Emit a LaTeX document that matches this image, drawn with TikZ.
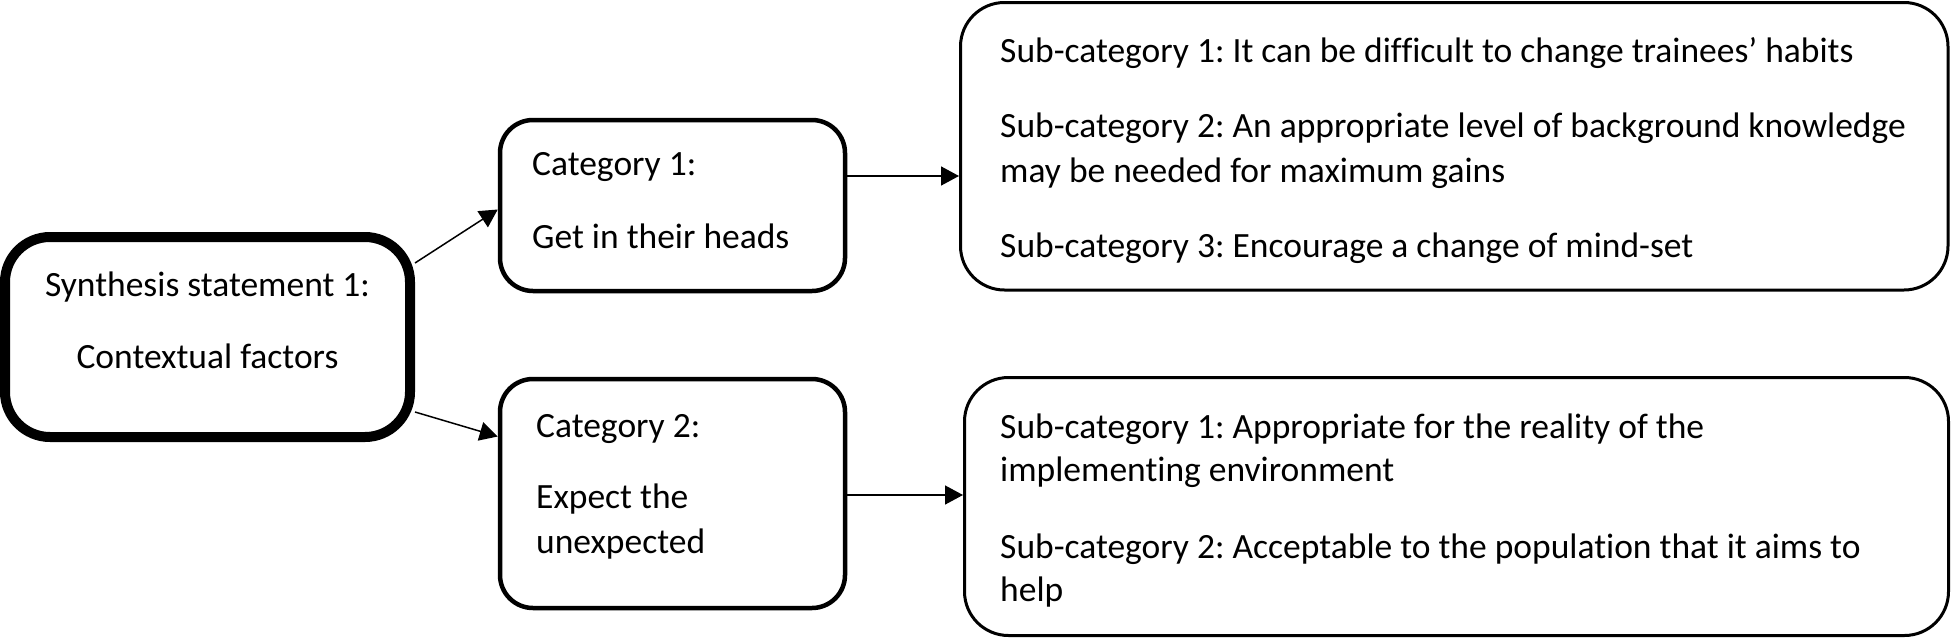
\documentclass[tikz,border=0pt]{standalone}
\usepackage{fontspec}
\setmainfont{Carlito}[Ligatures=CommonOff]
\usetikzlibrary{arrows.meta,calc}
\begin{document}
\frenchspacing
\begin{tikzpicture}[x=1pt,y=-1pt,
  box/.style={draw=black, rounded corners=#1, inner sep=0pt},
  txt/.style={inner sep=0pt, anchor=base west, align=left, font=\fontsize{35.5}{45}\selectfont\frenchspacing},
  conn/.style={line width=1.5pt, -{Triangle[length=18pt,width=19pt]}}]
\useasboundingbox (0,0) rectangle (1952,640);

% boxes
\node[box=45pt, line width=10pt, minimum width=405pt, minimum height=200pt] (syn) at (207.5,337) {};
\node[box=33pt, line width=4.5pt, minimum width=345pt, minimum height=171pt] (cat1) at (672.5,205.5) {};
\node[box=33pt, line width=4.5pt, minimum width=345pt, minimum height=229pt] (cat2) at (672.5,493.5) {};
\node[box=44pt, line width=3pt, minimum width=987.5pt, minimum height=287.5pt] (sub1) at (1454.25,146.25) {};
\node[box=44pt, line width=3pt, minimum width=984pt, minimum height=258pt] (sub2) at (1456.5,506.5) {};

% texts (anchor = baseline of the last line)
\node[txt, anchor=base, align=center] (syntxt) at (207.5,368) {Synthesis statement 1:\\[27pt]Contextual factors};
\node[txt] (cat1txt) at (532,248) {Category 1:\\[28pt]Get in their heads};
\node[txt] (cat2txt) at (536,553) {Category 2:\\[26pt]Expect the\\unexpected};
\node[txt] (sub1txt) at (1000,257) {Sub-category 1: It can be difficult to change trainees’ habits\\[30pt]
Sub-category 2: An appropriate level of background knowledge\\may be needed for maximum gains\\[30pt]
Sub-category 3: Encourage a change of mind-set};
\node[txt, font=\fontsize{35.5}{43}\selectfont\frenchspacing] (sub2txt) at (1000,601) {Sub-category 1: Appropriate for the reality of the\\implementing environment\\[34pt]
Sub-category 2: Acceptable to the population that it aims to\\help};

% connectors
\draw[conn] ($(syn.east)+(0,-74)$) -- ($(cat1.west)+(0,4)$);
\draw[conn] ($(syn.east)+(0,75)$) -- ($(cat2.west)+(0,-57)$);
\coordinate (a1) at ($(cat1.east)+(0,-29.5)$);
\coordinate (a2) at ($(cat2.east)+(0,1.5)$);
\draw[conn] (a1) -- (a1 -| sub1.west);
\draw[conn] (a2) -- (a2 -| sub2.west);
\end{tikzpicture}
\end{document}
